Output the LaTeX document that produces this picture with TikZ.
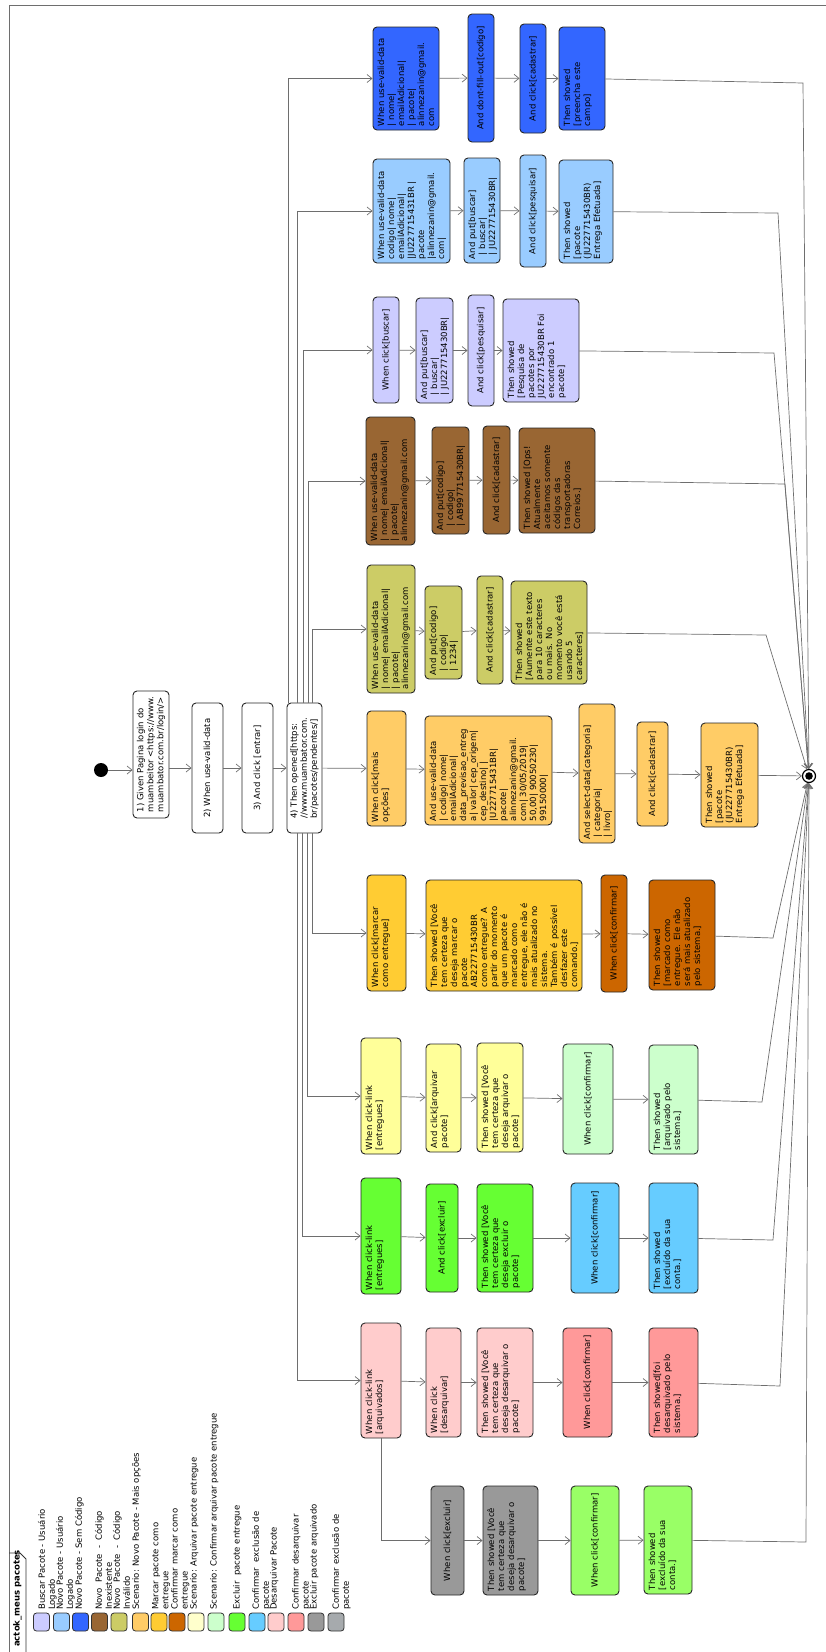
\documentclass[tikz,border=0pt]{standalone}
\usepackage{fontspec}
\setmainfont{DejaVu Sans}
\usetikzlibrary{arrows.meta, positioning, calc}
\definecolor{cLav}{HTML}{CCCCFF}
\definecolor{cSky}{HTML}{99CCFF}
\definecolor{cBlue}{HTML}{3366FF}
\definecolor{cBrown}{HTML}{996633}
\definecolor{cOlive}{HTML}{CCCC66}
\definecolor{cPeach}{HTML}{FFCC66}
\definecolor{cGold}{HTML}{FFCC33}
\definecolor{cRust}{HTML}{CC6600}
\definecolor{cCream}{HTML}{FFFFCC}
\definecolor{cYellow}{HTML}{FFFF99}
\definecolor{cMint}{HTML}{CCFFCC}
\definecolor{cGreen}{HTML}{66FF33}
\definecolor{cAzure}{HTML}{66CCFF}
\definecolor{cPink}{HTML}{FFCCCC}
\definecolor{cSalmon}{HTML}{FF9999}
\definecolor{cGray}{HTML}{999999}
\definecolor{cLime}{HTML}{99FF66}
\definecolor{cSlate}{HTML}{A6AAAD}
\definecolor{cEdge}{HTML}{6E6E6E}

\begin{document}
\begin{tikzpicture}[
  x=1pt, y=-1pt,
  font=\fontsize{8.5}{10}\selectfont,
  act/.style={rectangle, rounded corners=4pt, draw=black!85, line width=0.9pt, rotate=90, align=left, inner sep=2pt},
  txtblock/.style={text height=9pt},
  flow/.style={-{Straight Barb[length=5pt, width=8pt]}, draw=cEdge, line width=0.7pt},
  swatch/.style={rectangle, rounded corners=3pt, draw=black!80, line width=0.8pt, minimum width=16pt, minimum height=18pt, inner sep=0pt},
  legtext/.style={rotate=90, anchor=north west, align=left, inner sep=0pt},
  initnode/.style={circle, fill=black, minimum size=14pt, inner sep=0pt},
  finalnode/.style={circle, draw=black, line width=1.2pt, fill=white, minimum size=13pt, inner sep=0pt,
    path picture={\fill[black] (path picture bounding box.center) circle (3.8pt);}}
]
  \useasboundingbox (0,0) rectangle (826,1652);
  % Frame and tab
  \draw[cEdge, line width=0.8pt] (9,1652) -- (9,5) -- (826,5);
  \draw[black!80, line width=0.8pt] (9,1553) -- (20,1553) -- (26,1559) -- (26,1652);
  \node[rotate=90, anchor=west, inner sep=0pt, font=\fontsize{8.5}{10}\selectfont\bfseries] (title) at (17.5,1647) {actok\_meus pacotes};

  % Main sequence
  \node[initnode] (init) at (101,770) {};
  \node[act, fill=white, minimum width=127pt, minimum height=36pt] (s1) at (151,754.5) {1) Given Pagina login do\\muambeitor <https://www.\\muambator.com.br/login/>};
  \node[act, fill=white, minimum width=130pt, minimum height=31pt] (s2) at (207.5,768) {2) When use-valid-data};
  \node[act, fill=white, minimum width=130pt, minimum height=31pt] (s3) at (257.5,768) {3) And click [entrar]};
  \node[act, fill=white, minimum width=130pt, minimum height=35pt] (s4) at (304.5,768) {4) Then opened[https:\\//www.muambator.com.\\br/pacotes/pendentes/]};
  \node[finalnode] (final) at (809,776) {};

  % Novo Pacote - Sem Codigo
  \node[act, txtblock, fill=cBlue, minimum width=103pt, minimum height=66pt, text width=95pt, text depth=53pt] (b1) at (406,78.5) {When use-valid-data\\| nome|\\emailAdicional|\\| pacote|\\alinnezanin@gmail.\\com};
  \node[act, fill=cBlue, minimum width=128pt, minimum height=26pt] (b2) at (481,78) {And dont-fill-out[codigo]};
  \node[act, fill=cBlue, minimum width=109pt, minimum height=26pt] (b3) at (533,78.5) {And click[cadastrar]};
  \node[act, txtblock, fill=cBlue, minimum width=103pt, minimum height=46pt, text width=95pt, text depth=33pt] (b4) at (582,78.5) {Then showed\\{}[preencha este\\campo]};

  % Novo Pacote - Usuario Logado
  \node[act, txtblock, fill=cSky, minimum width=104pt, minimum height=77pt, text width=96pt, text depth=64pt] (l1) at (411.5,211) {When use-valid-data\\codigo| nome|\\emailAdicional|\\|JU227715431BR |\\pacote\\|alinnezanin@gmail.\\com|};
  \node[act, txtblock, fill=cSky, minimum width=105pt, minimum height=36pt, text width=97pt, text depth=23pt] (l2) at (482,210.5) {And put[buscar]\\\hspace*{4pt}| buscar|\\\hspace*{4pt}| JU227715430BR|};
  \node[act, fill=cSky, minimum width=112pt, minimum height=26pt] (l3) at (533,211) {And click[pesquisar]};
  \node[act, txtblock, fill=cSky, minimum width=103pt, minimum height=54pt, text width=95pt, text depth=41pt] (l4) at (586,211.5) {Then showed\\{}[pacote\\(JU227715430BR)\\Entrega Efetuada]};

  % Buscar Pacote - Usuario Logado
  \node[act, fill=cLav, minimum width=106pt, minimum height=26pt] (v1) at (386,350) {When click[buscar]};
  \node[act, txtblock, fill=cLav, minimum width=105pt, minimum height=37pt, text width=97pt, text depth=24pt] (v2) at (434.5,350.5) {And put[buscar]\\\hspace*{4pt}| buscar|\\\hspace*{4pt}| JU227715430BR|};
  \node[act, fill=cLav, minimum width=111pt, minimum height=26pt] (v3) at (481,350.5) {And click[pesquisar]};
  \node[act, txtblock, fill=cLav, minimum width=103pt, minimum height=76pt, text width=95pt, text depth=63pt] (v4) at (541,350.5) {Then showed\\{}[Pesquisa de\\pacotes por\\JU227715430BR Foi\\encontrado 1\\pacote]};

  % Novo Pacote - Codigo Inexistente
  \node[act, txtblock, fill=cBrown, minimum width=128pt, minimum height=49pt, text width=120pt, text depth=36pt] (r1) at (390.5,481) {When use-valid-data\\| nome| emailAdicional|\\| pacote|\\alinnezanin@gmail.com};
  \node[act, txtblock, fill=cBrown, minimum width=107pt, minimum height=37pt, text width=99pt, text depth=24pt] (r2) at (450.5,480.5) {And put[codigo]\\\hspace*{4pt}| codigo|\\\hspace*{4pt}| AB997715430BR|};
  \node[act, fill=cBrown, minimum width=108pt, minimum height=27pt] (r3) at (496.5,480) {And click[cadastrar]};
  \node[act, txtblock, fill=cBrown, minimum width=105pt, minimum height=76pt, text width=97pt, text depth=63pt] (r4) at (557,480.5) {Then showed [Ops!\\Atualmente\\aceitamos somente\\códigos das\\transportadoras\\Correios.]};

  % Novo Pacote - Codigo Invalido
  \node[act, txtblock, fill=cOlive, minimum width=128pt, minimum height=48pt, text width=120pt, text depth=35pt] (o1) at (391,629) {When use-valid-data\\| nome| emailAdicional|\\| pacote|\\alinnezanin@gmail.com};
  \node[act, txtblock, fill=cOlive, minimum width=93pt, minimum height=37pt, text width=85pt, text depth=24pt] (o2) at (443.5,632.5) {And put[codigo]\\\hspace*{4pt}| codigo|\\\hspace*{4pt}| 1234|};
  \node[act, fill=cOlive, minimum width=108pt, minimum height=26pt] (o3) at (490,630) {And click[cadastrar]};
  \node[act, txtblock, fill=cOlive, minimum width=103pt, minimum height=76pt, text width=95pt, text depth=63pt] (o4) at (549,632.5) {Then showed\\{}[Aumente este texto\\para 10 caracteres\\ou mais. No\\momento você está\\usando 5\\caracteres]};

  % Novo Pacote - Mais opcoes
  \node[act, txtblock, fill=cPeach, minimum width=115pt, minimum height=39pt, text width=107pt, text depth=26pt] (m1) at (386.5,768.5) {When click[mais\\opções]};
  \node[act, txtblock, fill=cPeach, minimum width=109pt, minimum height=127pt, text width=101pt, text depth=114pt] (m2) at (488.5,770.5) {And use-valid-data\\| codigo| nome|\\emailAdicional|\\data\_previsao\_entreg\\a| valor| cep\_origem|\\cep\_destino| |\\|U227715431BR|\\pacote|\\alinnezanin@gmail.\\com| 30/05/2019|\\50,00| 90050230|\\99150000|};
  \node[act, txtblock, fill=cPeach, minimum width=139pt, minimum height=36pt, text width=131pt, text depth=23pt] (m3) at (597,773.5) {And select-data[categoria]\\\hspace*{2pt}| categoria|\\\hspace*{2pt}| livro|};
  \node[act, fill=cPeach, minimum width=104pt, minimum height=31pt] (m4) at (652.5,774) {And click[cadastrar]};
  \node[act, txtblock, fill=cPeach, minimum width=104pt, minimum height=57pt, text width=96pt, text depth=44pt] (m5) at (729.5,775) {Then showed\\{}[pacote\\(JU227715430BR)\\Entrega Efetuada]};

  % Marcar pacote como entregue
  \node[act, txtblock, fill=cGold, minimum width=116pt, minimum height=39pt, text width=108pt, text depth=26pt] (g1) at (386.5,933) {When click[marcar\\como entregue]};
  \node[act, txtblock, fill=cGold, minimum width=111pt, minimum height=156pt, text width=103pt, text depth=143pt] (g2) at (504,935.5) {Then showed [Você\\tem certeza que\\deseja marcar o\\pacote\\AB227715430BR\\como entregue? A\\partir do momento\\que um pacote é\\marcado como\\entregue, ele não é\\mais atualizado no\\sistema.\\Também é possível\\desfazer este\\comando.]};
  \node[act, fill=cRust, minimum width=117pt, minimum height=26pt] (g3) at (614,933.5) {When click[confirmar]};
  \node[act, txtblock, fill=cRust, minimum width=110pt, minimum height=66pt, text width=102pt, text depth=53pt] (g4) at (682,935) {Then showed\\{}[marcado como\\entregue. Ele não\\será mais atualizado\\pelo sistema.]};

  % Arquivar pacote entregue
  \node[act, txtblock, fill=cYellow, minimum width=116pt, minimum height=40pt, text width=108pt, text depth=27pt] (y1) at (381,1096) {When click-link\\{}[entregues]};
  \node[act, txtblock, fill=cYellow, minimum width=108pt, minimum height=35pt, text width=100pt, text depth=22pt] (y2) at (443.5,1098) {And click[arquivar\\pacote]};
  \node[act, txtblock, fill=cYellow, minimum width=109pt, minimum height=46pt, text width=101pt, text depth=33pt] (y3) at (500,1097.5) {Then showed [Você\\tem certeza que\\deseja arquivar o\\pacote]};
  \node[act, fill=cMint, minimum width=110pt, minimum height=50pt] (y4) at (588,1099) {When click[confirmar]};
  \node[act, txtblock, fill=cMint, minimum width=109pt, minimum height=49pt, text width=101pt, text depth=36pt] (y5) at (673.5,1099.5) {Then showed\\{}[arquivado pelo\\sistema.]};

  % Excluir pacote entregue
  \node[act, txtblock, fill=cGreen, minimum width=116pt, minimum height=40pt, text width=108pt, text depth=27pt] (e1) at (381,1236) {When click-link\\{}[entregues]};
  \node[act, fill=cGreen, minimum width=108pt, minimum height=32pt] (e2) at (442,1238) {And click[excluir]};
  \node[act, txtblock, fill=cGreen, minimum width=108pt, minimum height=56pt, text width=100pt, text depth=43pt] (e3) at (505,1238) {Then showed [Você\\tem certeza que\\deseja excluir o\\pacote]};
  \node[act, fill=cAzure, minimum width=110pt, minimum height=48pt] (e4) at (595,1238) {When click[confirmar]};
  \node[act, txtblock, fill=cAzure, minimum width=110pt, minimum height=49pt, text width=102pt, text depth=36pt] (e5) at (673.5,1238) {Then showed\\{}[excluído da sua\\conta.]};

  % Desarquivar pacote
  \node[act, txtblock, fill=cPink, minimum width=115pt, minimum height=40pt, text width=107pt, text depth=27pt] (p1) at (381,1380.5) {When click-link\\{}[arquivados]};
  \node[act, txtblock, fill=cPink, minimum width=109pt, minimum height=35pt, text width=101pt, text depth=22pt] (p2) at (443.5,1382.5) {When click\\{}[desarquivar]};
  \node[act, txtblock, fill=cPink, minimum width=109pt, minimum height=56pt, text width=101pt, text depth=43pt] (p3) at (505,1382.5) {Then showed [Você\\tem certeza que\\deseja desarquivar o\\pacote]};
  \node[act, fill=cSalmon, minimum width=109pt, minimum height=49pt] (p4) at (587.5,1382.5) {When click[confirmar]};
  \node[act, txtblock, fill=cSalmon, minimum width=109pt, minimum height=49pt, text width=101pt, text depth=36pt] (p5) at (673.5,1382.5) {Then showed[foi\\desarquivado pelo\\sistema.]};

  % Excluir pacote arquivado
  \node[act, fill=cGray, minimum width=109pt, minimum height=33pt] (k1) at (447.5,1540.5) {When click[excluir]};
  \node[act, txtblock, fill=cGray, minimum width=109pt, minimum height=55pt, text width=101pt, text depth=42pt] (k2) at (510.5,1540.5) {Then showed [Você\\tem certeza que\\deseja desarquivar o\\pacote]};
  \node[act, fill=cLime, minimum width=109pt, minimum height=48pt] (k3) at (595,1540.5) {When click[confirmar]};
  \node[act, txtblock, fill=cLime, minimum width=108pt, minimum height=48pt, text width=100pt, text depth=35pt] (k4) at (668,1540) {Then showed\\{}[excluído da sua\\conta.]};

  % Main arrows
  \draw[flow] (init) -- (init -| s1.north);
  \draw[flow] (s1.south |- s2) -- (s2);
  \draw[flow] (s2) -- (s3);
  \draw[flow] (s3) -- (s4);
  \draw[flow] (s4) -- (m1);
  % Fan out
  \draw[flow] ($(s4.east)+(-16,0)$) |- (b1);
  \draw[flow] ($(s4.east)+(-7,0)$) |- (l1);
  \draw[flow] ($(s4.east)+(-1,0)$) |- (v1);
  \draw[flow] ($(s4.east)+(4,0)$) |- (r1);
  \draw[flow] ($(s4.east)+(8,0)$) |- (o1);
  \draw[flow] ($(s4.west)+(-7,0)$) |- (p1);
  \draw[flow] ($(s4.west)+(-2,0)$) |- (e1);
  \draw[flow] ($(s4.west)+(3,0)$) |- (y1);
  \draw[flow] ($(s4.west)+(8,0)$) |- (g1);
  % Rows
  \draw[flow] (b1) -- (b2);
  \draw[flow] (b2) -- (b3);
  \draw[flow] (b3) -- (b4);
  \draw[flow] (l1) -- (l2);
  \draw[flow] (l2) -- (l3);
  \draw[flow] (l3) -- (l4);
  \draw[flow] (v1) -- (v2);
  \draw[flow] (v2) -- (v3);
  \draw[flow] (v3) -- (v4);
  \draw[flow] (r1) -- (r2);
  \draw[flow] (r2) -- (r3);
  \draw[flow] (r3) -- (r4);
  \draw[flow] (o1) -- (o2);
  \draw[flow] (o2) -- (o3);
  \draw[flow] (o3) -- (o4);
  \draw[flow] (m1) -- (m2);
  \draw[flow] (m2) -- (m3);
  \draw[flow] (m3) -- (m4);
  \draw[flow] (m4) -- (m5);
  \draw[flow] (g1) -- (g2);
  \draw[flow] (g2) -- (g3);
  \draw[flow] (g3) -- (g4);
  \draw[flow] (y1) -- (y2);
  \draw[flow] (y2) -- (y3);
  \draw[flow] (y3) -- (y4);
  \draw[flow] (y4) -- (y5);
  \draw[flow] (e1) -- (e2);
  \draw[flow] (e2) -- (e3);
  \draw[flow] (e3) -- (e4);
  \draw[flow] (e4) -- (e5);
  \draw[flow] (p1) -- (p2);
  \draw[flow] (p2) -- (p3);
  \draw[flow] (p3) -- (p4);
  \draw[flow] (p4) -- (p5);
  \draw[flow] (p1.west) |- (k1);
  \draw[flow] (k1) -- (k2);
  \draw[flow] (k2) -- (k3);
  \draw[flow] (k3) -- (k4);
  % Into final
  \draw[flow] (b4) -- (803,83) -- (final);
  \draw[flow] (l4) -- (778,213) -- (final);
  \draw[flow] (v4) -- (774,353) -- (final);
  \draw[flow] (r4) -- (785,484) -- (final);
  \draw[flow] (o4) -- (766,635) -- (final);
  \draw[flow] (m5) -- (final);
  \draw[flow] (g4) -- (773,938) -- (final);
  \draw[flow] (y5) -- (762,1102) -- (final);
  \draw[flow] (e5) -- (773,1240) -- (final);
  \draw[flow] (p5) -- (780,1386) -- (final);
  \draw[flow] (k4) -- (806,1542) -- (final);

  % Legend
  \node[swatch, fill=cLav] (sw1) at (41.5,1622) {};
  \node[swatch, fill=cSky] (sw2) at (61.5,1622) {};
  \node[swatch, fill=cBlue] (sw3) at (80.5,1622) {};
  \node[swatch, fill=cBrown] (sw4) at (99.5,1622) {};
  \node[swatch, fill=cOlive] (sw5) at (119,1622) {};
  \node[swatch, fill=cPeach] (sw6) at (140.5,1622) {};
  \node[swatch, fill=cGold] (sw7) at (159,1622) {};
  \node[swatch, fill=cRust] (sw8) at (177,1622) {};
  \node[swatch, fill=cCream] (sw9) at (196,1622) {};
  \node[swatch, fill=cMint] (sw10) at (216,1622) {};
  \node[swatch, fill=cGreen] (sw11) at (237,1622) {};
  \node[swatch, fill=cAzure] (sw12) at (257,1622) {};
  \node[swatch, fill=cPink] (sw13) at (276,1622) {};
  \node[swatch, fill=cSalmon] (sw14) at (296,1622) {};
  \node[swatch, fill=cGray] (sw15) at (316,1622) {};
  \node[swatch, fill=cSlate] (sw16) at (336,1622) {};
  \node[legtext] (lg1) at (38,1610) {Buscar Pacote - Usuário\\Logado};
  \node[legtext] (lg2) at (56,1610) {Novo Pacote - Usuário\\Logado};
  \node[legtext] (lg3) at (75,1610) {Novo Pacote - Sem Código};
  \node[legtext] (lg4) at (95,1610) {Novo\ \ Pacote\ \ -\ \ Código\\Inexistente};
  \node[legtext] (lg5) at (113,1610) {Novo\ \ Pacote\ \ -\ \ Código\\Inválido};
  \node[legtext] (lg6) at (132,1610) {Scenario: Novo Pacote - Mais opções};
  \node[legtext] (lg7) at (152,1610) {Marcar pacote como\\entregue};
  \node[legtext] (lg8) at (171,1610) {Confirmar marcar como\\entregue};
  \node[legtext] (lg9) at (190,1610) {Scenario: Arquivar pacote entregue};
  \node[legtext] (lg10) at (210,1610) {Scenario: Confirmar arquivar pacote entregue};
  \node[legtext] (lg11) at (233,1610) {Excluir\ \ pacote entregue};
  \node[legtext] (lg12) at (252,1610) {Confirmar\ \ exclusão de\\pacote};
  \node[legtext] (lg13) at (270,1610) {Desarquivar Pacote};
  \node[legtext] (lg14) at (292,1610) {Confirmar desarquivar\\pacote};
  \node[legtext] (lg15) at (310,1610) {Excluir pacote arquivado};
  \node[legtext] (lg16) at (332,1610) {Confirmar exclusão de\\pacote};
\end{tikzpicture}
\end{document}
